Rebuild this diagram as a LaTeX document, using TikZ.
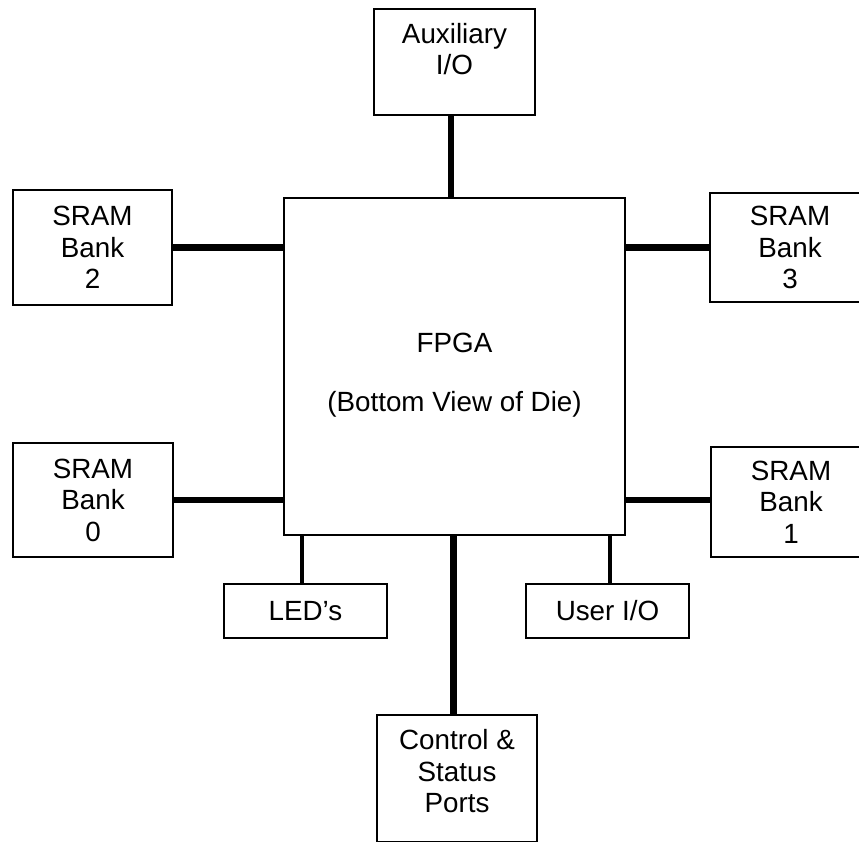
\documentclass[tikz,border=0pt]{standalone}
\usepackage{fontspec}
\setmainfont{Liberation Sans}
\begin{document}
\begin{tikzpicture}[x=1pt,y=-1pt,
  blk/.style={draw=black, line width=2pt, fill=white, rectangle, inner sep=0pt, align=center,
              font=\fontsize{27.8}{31.5}\selectfont},
  lbl/.style={inner sep=0pt, align=center, font=\fontsize{27.8}{31.5}\selectfont},
  bus/.style={line width=6.5pt},
  wire/.style={line width=3.5pt}]
  \useasboundingbox (0,0) rectangle (859,842);
  \fill[white] (0,0) rectangle (859,842);
  \clip (0,0) rectangle (859,842);

  % central device
  \node[blk, minimum width=341pt, minimum height=337pt] (fpga) at (454.5,366.5) {};
  \node[lbl, font=\fontsize{27.8}{59}\selectfont] (fpgatext) at (454.5,375.5) {FPGA\\(Bottom View of Die)};

  % peripheral blocks
  \node[blk, minimum width=161pt, minimum height=106pt] (aux) at (454.5,62) {};
  \node[lbl] (auxtext) at (454.5,49) {Auxiliary\\I/O};

  \node[blk, minimum width=159pt, minimum height=115pt] (sram2) at (92.5,247.5) {SRAM\\Bank\\2};
  \node[blk, minimum width=160pt, minimum height=109pt] (sram3) at (790,247.5) {SRAM\\Bank\\3};
  \node[blk, minimum width=160pt, minimum height=114pt] (sram0) at (93,500) {SRAM\\Bank\\0};
  \node[blk, minimum width=160pt, minimum height=110pt] (sram1) at (791,502) {SRAM\\Bank\\1};

  \node[blk, minimum width=163pt, minimum height=54pt] (leds) at (305.5,611) {LED's};
  \node[blk, minimum width=163pt, minimum height=54pt] (userio) at (607.5,611) {User I/O};

  \node[blk, minimum width=160pt, minimum height=127pt] (ctrl) at (457,778.5) {};
  \node[lbl] (ctrltext) at (457,771.5) {Control \&\\Status\\Ports};

  % connector positions
  \coordinate (xaux) at (451,0);
  \coordinate (xctrl) at (453.5,0);
  \coordinate (xled) at (302,0);
  \coordinate (xuser) at (610,0);
  \coordinate (ybank1) at (0,500);

  % buses
  \draw[bus] (aux.south -| xaux) -- (fpga.north -| xaux);
  \draw[bus] (sram2.east) -- (sram2.east -| fpga.west);
  \draw[bus] (sram3.west) -- (sram3.west -| fpga.east);
  \draw[bus] (sram0.east) -- (sram0.east -| fpga.west);
  \draw[bus] (sram1.west |- ybank1) -- (fpga.east |- ybank1);
  \draw[bus] (fpga.south -| xctrl) -- (ctrl.north -| xctrl);
  \draw[wire] (fpga.south -| xled) -- (leds.north -| xled);
  \draw[wire] (fpga.south -| xuser) -- (userio.north -| xuser);
\end{tikzpicture}
\end{document}
